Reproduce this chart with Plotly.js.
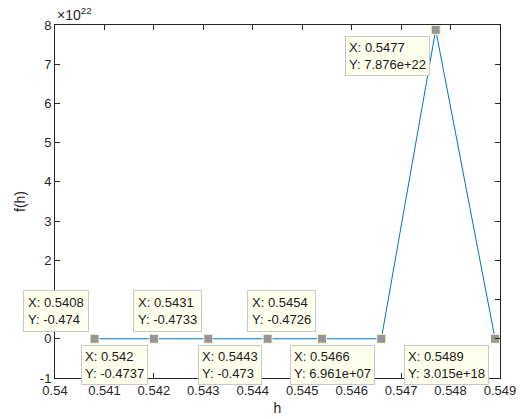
<!DOCTYPE html>
<html>
<head>
<meta charset="utf-8">
<script src="https://cdn.plot.ly/plotly-3.0.1.min.js"></script>
<style>
  html, body { margin: 0; padding: 0; background: #fff; }
  #chart { width: 525px; height: 419px; }
</style>
</head>
<body>
<div id="chart"></div>
<script>
// Sampled step sizes h and the function values f(h)
const hValues = [0.5408, 0.542, 0.5431, 0.5443, 0.5454, 0.5466, 0.5477, 0.5489];
const fValues = [-0.474, -0.4737, -0.4733, -0.473, -0.4726, 6.961e+07, 7.876e+22, 3.015e+18];

// Axis ticks (y axis is shown in units of 10^22)
const xTickVals = [0.54, 0.541, 0.542, 0.543, 0.544, 0.545, 0.546, 0.547, 0.548, 0.549];
const xTickText = ['0.54', '0.541', '0.542', '0.543', '0.544', '0.545', '0.546', '0.547', '0.548', '0.549'];
const yTickUnits = [-1, 0, 1, 2, 3, 4, 5, 6, 7, 8];
const yScale = 1e22;

// Which data tips sit above (1) or below (-1) their point
const tipSide = [1, -1, 1, -1, 1, -1, -1, -1];

const axisColor = '#262626';
const font = 'Liberation Sans, Arial, Helvetica, sans-serif';

function fmt(v) {
  if (Math.abs(v) >= 1e5) {
    const parts = v.toExponential(3).split('e');
    const sign = parts[1][0];
    const digits = parts[1].slice(1).padStart(2, '0');
    return parts[0] + 'e' + sign + digits;
  }
  return String(parseFloat(v.toPrecision(4)));
}

const trace = {
  x: hValues,
  y: fValues,
  type: 'scatter',
  mode: 'lines+markers',
  line: { color: 'rgb(0,114,189)', width: 1 },
  marker: {
    symbol: 'square',
    size: 9,
    color: 'rgb(150,150,150)',
    line: { color: 'rgb(250,250,215)', width: 1 }
  },
  hoverinfo: 'skip'
};

const tips = hValues.map((h, i) => ({
  x: h,
  y: fValues[i],
  xref: 'x',
  yref: 'y',
  text: 'X: ' + fmt(h) + '<br>Y: ' + fmt(fValues[i]),
  showarrow: false,
  align: 'left',
  xanchor: 'right',
  yanchor: tipSide[i] > 0 ? 'bottom' : 'top',
  xshift: -6,
  yshift: tipSide[i] > 0 ? 7 : -6,
  bgcolor: 'rgb(255,255,238)',
  bordercolor: 'rgb(200,200,200)',
  borderwidth: 1,
  borderpad: tipSide[i] > 0 ? 4 : 3,
  font: { family: font, size: 13, color: '#1a1a1a' }
}));

tips.push({
  xref: 'paper', yref: 'paper',
  x: 0, y: 1,
  xanchor: 'left', yanchor: 'bottom',
  yshift: 0,
  showarrow: false,
  text: '×10<sup>22</sup>',
  font: { family: font, size: 14, color: axisColor }
});

const axisCommon = {
  showline: true,
  linecolor: axisColor,
  linewidth: 1,
  mirror: 'allticks',
  ticks: 'inside',
  ticklen: 5,
  tickwidth: 1,
  tickcolor: axisColor,
  showgrid: false,
  zeroline: false,
  tickfont: { family: font, size: 13, color: axisColor }
};

const layout = {
  width: 525,
  height: 419,
  margin: { l: 55, r: 25, t: 25, b: 41 },
  paper_bgcolor: '#fff',
  plot_bgcolor: '#fff',
  showlegend: false,
  xaxis: Object.assign({}, axisCommon, {
    range: [0.54, 0.549],
    tickmode: 'array',
    tickvals: xTickVals,
    ticktext: xTickText,
    title: { text: 'h', font: { family: font, size: 14, color: axisColor }, standoff: 6 }
  }),
  yaxis: Object.assign({}, axisCommon, {
    range: [-1 * yScale, 8 * yScale],
    tickmode: 'array',
    tickvals: yTickUnits.map(v => v * yScale),
    ticktext: yTickUnits.map(v => String(v)),
    title: { text: 'f(h)', font: { family: font, size: 14, color: axisColor }, standoff: 10 }
  }),
  annotations: tips
};

Plotly.newPlot('chart', [trace], layout, { displayModeBar: false, staticPlot: true });
</script>
</body>
</html>
